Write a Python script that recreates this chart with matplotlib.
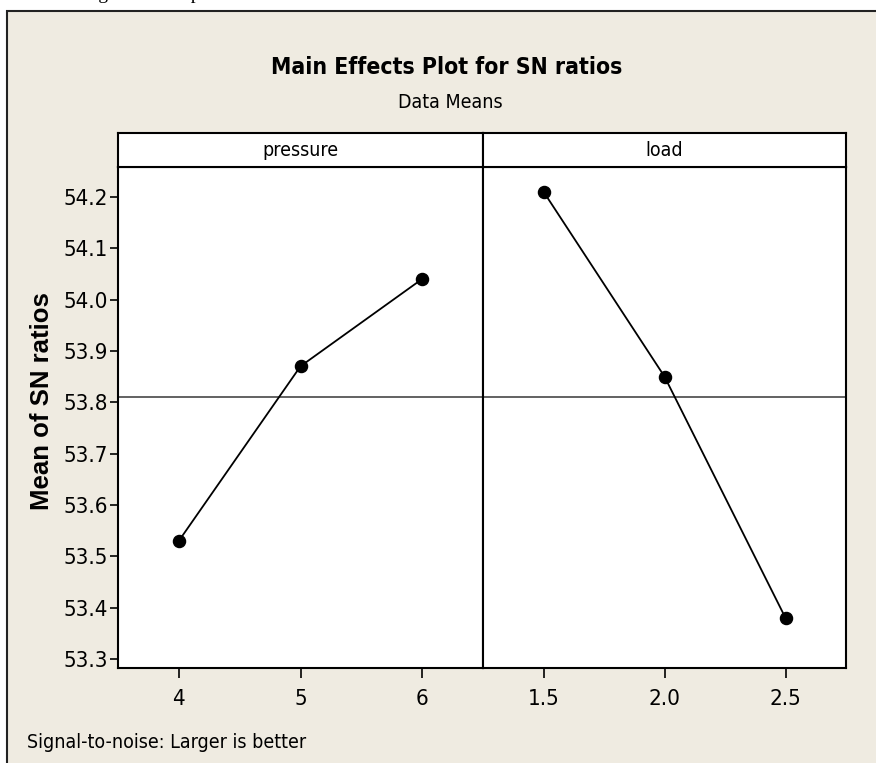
import matplotlib
matplotlib.use("Agg")
import matplotlib.pyplot as plt
from matplotlib import font_manager
from matplotlib.patches import Rectangle

# data
pressure_levels = [4, 5, 6]
pressure_sn = [53.53, 53.87, 54.04]
load_levels = [1.5, 2.0, 2.5]
load_sn = [54.21, 53.85, 53.38]
grand_mean = 53.81
y_ticks = [53.3, 53.4, 53.5, 53.6, 53.7, 53.8, 53.9, 54.0, 54.1, 54.2]
pressure_ticks = ["4", "5", "6"]
load_ticks = ["1.5", "2.0", "2.5"]

names = {f.name for f in font_manager.fontManager.ttflist}
narrow = "Liberation Sans Narrow" if "Liberation Sans Narrow" in names else "DejaVu Sans"
stretch = "normal" if narrow == "Liberation Sans Narrow" else "condensed"
nfont = dict(family=narrow, fontstretch=stretch)

bg = "#efebe1"
fig = plt.figure(figsize=(8.76, 7.63), dpi=100)
fig.patch.set_facecolor("white")

W, H = 876, 763
# outer frame of the Minitab graph
fig.patches.append(Rectangle((7 / W, -0.01), 1.0, 1.01 - 11 / H, transform=fig.transFigure,
                             facecolor=bg, edgecolor="#222222", linewidth=1.5, zorder=-5))
# clipped line of body text above the graph (only its bottom shows)
fig.text(0.0, 1 + 1 / H, "d with the highest feed speed.", family="Liberation Serif",
         fontsize=14, va="baseline", ha="left")

bottom = 1 - 668 / H
top = 1 - 167 / H
strip_top = 1 - 133 / H
x0, xm, x1 = 118 / W, 483 / W, 846 / W

ylim = (53.2825, 54.258)
panels = [
    (x0, xm, "pressure", pressure_levels, pressure_sn, pressure_ticks),
    (xm, x1, "load", load_levels, load_sn, load_ticks),
]

for i, (a, b, name, lv, vals, labels) in enumerate(panels):
    ax = fig.add_axes([a, bottom, b - a, top - bottom])
    step = lv[1] - lv[0]
    ax.set_xlim(lv[0] - step / 2, lv[-1] + step / 2)
    ax.set_ylim(*ylim)
    ax.axhline(grand_mean, color="#555555", linewidth=1.3, zorder=1)
    ax.plot(lv, vals, color="black", linewidth=1.3, marker="o", markersize=8.7, zorder=3)
    ax.set_xticks(lv)
    ax.set_xticklabels(labels, fontsize=16, **nfont)
    ax.tick_params(axis="x", length=7, width=1.2, pad=8)
    if i == 0:
        ax.set_yticks(y_ticks)
        ax.set_yticklabels([f"{t:.1f}" for t in y_ticks], fontsize=16, **nfont)
        ax.tick_params(axis="y", length=6, width=1.2, pad=1)
    else:
        ax.set_yticks([])
    for s in ax.spines.values():
        s.set_linewidth(1.5)
        s.set_color("black")

    sax = fig.add_axes([a, top, b - a, strip_top - top])
    sax.set_xticks([])
    sax.set_yticks([])
    for s in sax.spines.values():
        s.set_linewidth(1.5)
    sax.text(0.5, 0.5, name, ha="center", va="center", fontsize=14, **nfont)

fig.text(447 / W, 1 - 68 / H, "Main Effects Plot for SN ratios", ha="center", va="center",
         fontsize=16.5, fontweight="bold", **nfont)
fig.text(450 / W, 1 - 103 / H, "Data Means", ha="center", va="center", fontsize=14, **nfont)
fig.text(42 / W, 1 - 401 / H, "Mean of SN ratios", ha="center", va="center", rotation=90,
         fontsize=18.5, fontweight="bold", family="Liberation Sans")
fig.text(27 / W, 1 - 742 / H, "Signal-to-noise: Larger is better", ha="left", va="center",
         fontsize=14, **nfont)

fig.savefig("out.png", dpi=100, facecolor=fig.get_facecolor())
